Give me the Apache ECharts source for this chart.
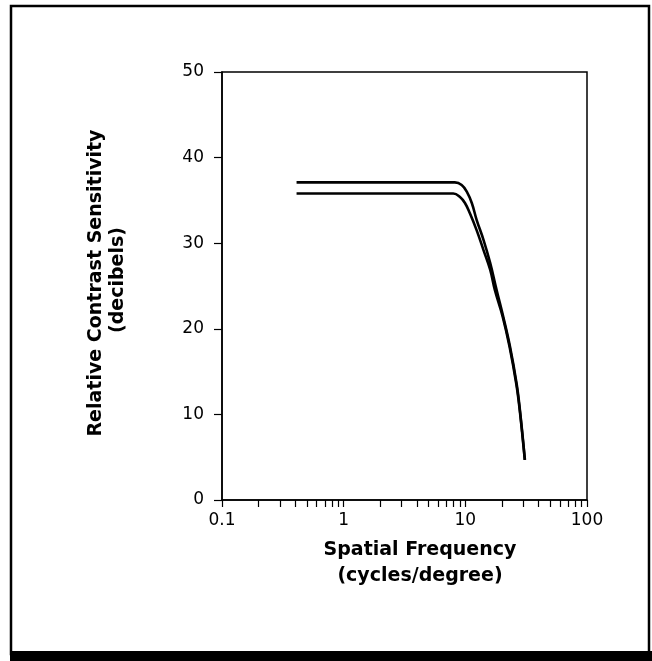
<!DOCTYPE html>
<html>
<head>
<meta charset="utf-8">
<script src="https://cdn.jsdelivr.net/npm/echarts@6/dist/echarts.min.js"></script>
<style>
html,body{margin:0;padding:0;background:#fff;}
#chart{width:652px;height:661px;}
</style>
</head>
<body>
<div id="chart"></div>
<script>
// Data
var xTickValues = [0.1,0.2,0.3,0.4,0.5,0.6,0.7,0.8,0.9,1,2,3,4,5,6,7,8,9,10,20,30,40,50,60,70,80,90,100];
var xLabelValues = [0.1,1,10,100];
var yTickLabels = [0,10,20,30,40,50];
var upperCurve = [[0.41,37.1],[8.2,37.1],[9.33,36.8],[10.3,36.0],[11.3,34.7],[12.4,32.7],[14.1,30.4],[16.0,27.7],[18.1,24.5],[20.5,21.4],[23.3,17.9],[26.4,13.6],[28.1,10.5],[30.9,4.7]];
var lowerCurve = [[0.41,35.8],[7.96,35.8],[9.04,35.4],[9.93,34.7],[10.9,33.5],[12.4,31.5],[14.1,29.2],[16.0,26.9],[17.5,24.5],[20.3,21.4],[23.1,17.9],[26.2,13.6],[28.0,10.5],[30.8,4.7]];
var xTitle = ['Spatial Frequency','(cycles/degree)'];
var yTitle = ['Relative Contrast Sensitivity','(decibels)'];

var chart = echarts.init(document.getElementById('chart'), null, {renderer:'canvas'});
var titleFont = 'bold 19px "DejaVu Sans"';
chart.setOption({
  animation:false,
  backgroundColor:'#fff',
  grid:{left:222, right:65, top:72, bottom:161, show:true, borderColor:'#000', borderWidth:1.5, backgroundColor:'transparent'},
  xAxis:{
    type:'log', min:0.1, max:100, logBase:10,
    axisLine:{show:true, onZero:false, lineStyle:{color:'#000', width:1.5}},
    axisTick:{show:true, customValues:xTickValues, length:7, inside:false, lineStyle:{color:'#000', width:1.2}},
    axisLabel:{show:true, customValues:xLabelValues, margin:12, fontFamily:'DejaVu Sans', fontSize:17, color:'#000',
      formatter:function(v){return String(v);}},
    splitLine:{show:false}, minorTick:{show:false}
  },
  yAxis:{
    type:'value', min:0, max:50, interval:10,
    axisLine:{show:true, lineStyle:{color:'#000', width:1.5}},
    axisTick:{show:true, length:8, lineStyle:{color:'#000', width:1.2}},
    axisLabel:{margin:18, fontFamily:'DejaVu Sans', fontSize:17, color:'#000',
      formatter:function(v){return yTickLabels.indexOf(v) >= 0 ? String(v) : '';}},
    splitLine:{show:false}
  },
  series:[
    {type:'line', data:upperCurve, smooth:0.4, symbol:'none', lineStyle:{color:'#000', width:2.6}},
    {type:'line', data:lowerCurve, smooth:0.4, symbol:'none', lineStyle:{color:'#000', width:2.6}}
  ],
  graphic:[
    {type:'rect', shape:{x:11, y:6, width:638, height:648}, style:{fill:'none', stroke:'#000', lineWidth:2.5}, silent:true},
    {type:'rect', shape:{x:10, y:651, width:642, height:10}, style:{fill:'#000'}, silent:true},
    {type:'text', x:420, y:550, style:{text:xTitle[0], font:titleFont, fill:'#000', textAlign:'center', textVerticalAlign:'middle'}},
    {type:'text', x:420, y:576, style:{text:xTitle[1], font:titleFont, fill:'#000', textAlign:'center', textVerticalAlign:'middle'}},
    {type:'text', x:96, y:283, rotation:Math.PI/2, style:{text:yTitle[0], font:titleFont, fill:'#000', textAlign:'center', textVerticalAlign:'middle'}},
    {type:'text', x:118, y:280, rotation:Math.PI/2, style:{text:yTitle[1], font:titleFont, fill:'#000', textAlign:'center', textVerticalAlign:'middle'}}
  ]
});
</script>
</body>
</html>
